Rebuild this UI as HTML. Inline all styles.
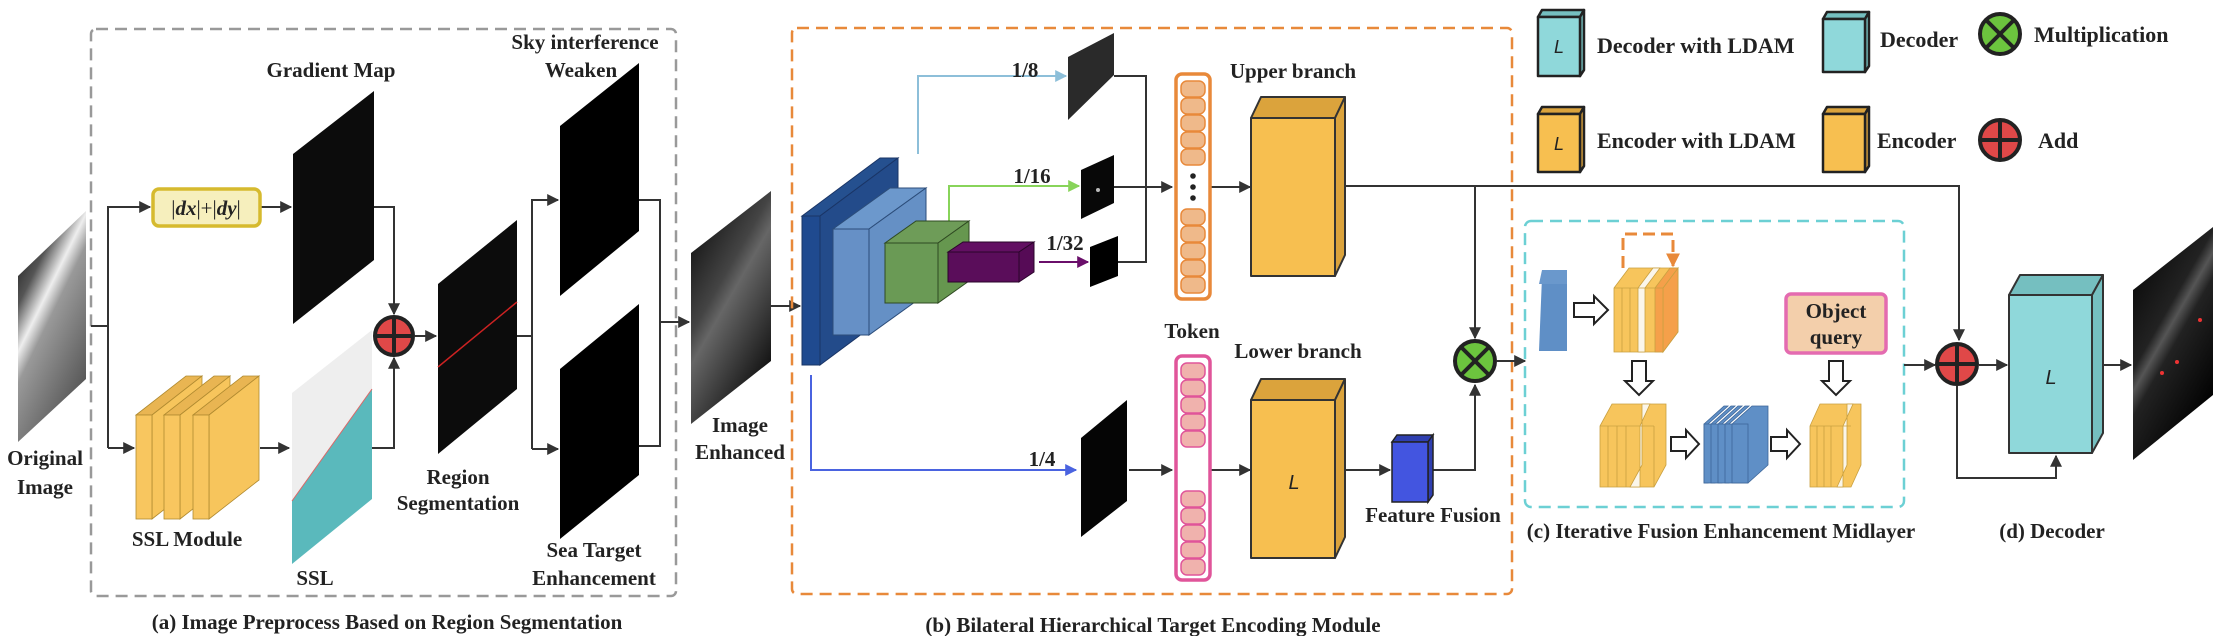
<!DOCTYPE html>
<html><head><meta charset="utf-8"><style>
html,body{margin:0;padding:0;background:#fff;}
svg{display:block;font-family:"Liberation Serif","Times New Roman",serif;}
svg text{font-family:"Liberation Serif","Times New Roman",serif;font-weight:bold;fill:#222;}
svg text.sl{font-family:"Liberation Sans",sans-serif;font-weight:normal;font-style:italic;}
</style></head><body>
<svg width="2214" height="636" viewBox="0 0 2214 636" xmlns="http://www.w3.org/2000/svg" font-family="Liberation Serif, serif">
<defs>
<marker id="a2" viewBox="0 0 10 10" refX="9" refY="5" markerWidth="14" markerHeight="12" orient="auto" markerUnits="userSpaceOnUse"><path d="M0,0 L10,5 L0,10 z" fill="#333"/></marker>
<marker id="ab" viewBox="0 0 10 10" refX="9" refY="5" markerWidth="14" markerHeight="12" orient="auto" markerUnits="userSpaceOnUse"><path d="M0,0 L10,5 L0,10 z" fill="#8dbfd9"/></marker>
<marker id="ag" viewBox="0 0 10 10" refX="9" refY="5" markerWidth="14" markerHeight="12" orient="auto" markerUnits="userSpaceOnUse"><path d="M0,0 L10,5 L0,10 z" fill="#88d45a"/></marker>
<marker id="ap" viewBox="0 0 10 10" refX="9" refY="5" markerWidth="14" markerHeight="12" orient="auto" markerUnits="userSpaceOnUse"><path d="M0,0 L10,5 L0,10 z" fill="#6a0f6a"/></marker>
<marker id="abl" viewBox="0 0 10 10" refX="9" refY="5" markerWidth="14" markerHeight="12" orient="auto" markerUnits="userSpaceOnUse"><path d="M0,0 L10,5 L0,10 z" fill="#4a63e0"/></marker>
<marker id="ao" viewBox="0 0 10 10" refX="9" refY="5" markerWidth="14" markerHeight="14" orient="auto" markerUnits="userSpaceOnUse"><path d="M0,0 L10,5 L0,10 z" fill="#e8893a"/></marker>
<linearGradient id="gOrig" x1="0" y1="0" x2="0.6" y2="1">
<stop offset="0" stop-color="#000"/><stop offset="0.3" stop-color="#555"/><stop offset="0.45" stop-color="#eee"/><stop offset="0.55" stop-color="#999"/><stop offset="1" stop-color="#555"/></linearGradient>
<linearGradient id="gEnh" x1="0" y1="0" x2="0.6" y2="1">
<stop offset="0" stop-color="#000"/><stop offset="0.45" stop-color="#444"/><stop offset="0.55" stop-color="#666"/><stop offset="1" stop-color="#111"/></linearGradient>
<linearGradient id="gOut" x1="0" y1="0" x2="0.6" y2="1">
<stop offset="0" stop-color="#000"/><stop offset="0.45" stop-color="#222"/><stop offset="0.52" stop-color="#555"/><stop offset="0.6" stop-color="#222"/><stop offset="1" stop-color="#000"/></linearGradient>
</defs>

<rect x="91" y="29" width="585" height="567" rx="5" fill="none" stroke="#999" stroke-width="2.5" stroke-dasharray="12,7"/>
<polygon points="18,276 86,211 86,379 18,442" fill="url(#gOrig)"/>
<text x="45" y="465" font-size="21" text-anchor="middle">Original</text>
<text x="45" y="494" font-size="21" text-anchor="middle">Image</text>
<g stroke="#333" stroke-width="2" fill="none">
<polyline points="91,326 108,326"/>
<polyline points="108,448 108,207 150,207" marker-end="url(#a2)"/>
<polyline points="108,448 134,448" marker-end="url(#a2)"/>
<line x1="260" y1="207" x2="291" y2="207" marker-end="url(#a2)"/>
<polyline points="374,207 394,207 394,314" marker-end="url(#a2)"/>
<line x1="260" y1="448" x2="289" y2="448" marker-end="url(#a2)"/>
<polyline points="372,448 394,448 394,358" marker-end="url(#a2)"/>
<line x1="415" y1="336" x2="436" y2="336" marker-end="url(#a2)"/>
<polyline points="517,336 532,336"/>
<polyline points="532,449 532,200 558,200" marker-end="url(#a2)"/>
<polyline points="532,449 558,449" marker-end="url(#a2)"/>
<polyline points="639,200 660,200 660,446 639,446"/>
<line x1="660" y1="322" x2="689" y2="322" marker-end="url(#a2)"/>
</g>
<rect x="153" y="189" width="107" height="37" rx="6" fill="#f6efbd" stroke="#d6ba2e" stroke-width="3.5"/>
<text x="206" y="215" font-size="21" text-anchor="middle" style="font-weight:normal">|<tspan font-style="italic" style="font-weight:bold">dx</tspan>|+|<tspan font-style="italic" style="font-weight:bold">dy</tspan>|</text>
<polygon points="293,154 374,91 374,260 293,324" fill="#0c0c0c"/>
<text x="331" y="77" font-size="21" text-anchor="middle">Gradient Map</text>
<g stroke="#b08a30" stroke-width="0.8">
<polygon points="136,415 186,376 202,376 152,415" fill="#e9b552"/><polygon points="152,415 202,376 202,480 152,519" fill="#f7c55c"/><rect x="136" y="415" width="16" height="104" fill="#f8c65f"/>
<polygon points="164,415 214,376 230,376 180,415" fill="#e9b552"/><polygon points="180,415 230,376 230,480 180,519" fill="#f7c55c"/><rect x="164" y="415" width="16" height="104" fill="#f8c65f"/>
<polygon points="193,415 243,376 259,376 209,415" fill="#e9b552"/><polygon points="209,415 259,376 259,480 209,519" fill="#f7c55c"/><rect x="193" y="415" width="16" height="104" fill="#f8c65f"/>
</g>
<text x="187" y="546" font-size="21" text-anchor="middle">SSL Module</text>
<polygon points="292,393 372,330 372,389 292,501" fill="#eeeeee"/>
<polygon points="292,501 372,389 372,499 292,564" fill="#5ab9bc"/>
<line x1="292" y1="501" x2="372" y2="389" stroke="#d66" stroke-width="1"/>
<text x="315" y="585" font-size="21" text-anchor="middle">SSL</text>
<circle cx="394" cy="336" r="19" fill="#e04848" stroke="#222" stroke-width="4"/>
<line x1="375" y1="336" x2="413" y2="336" stroke="#222" stroke-width="4"/><line x1="394" y1="317" x2="394" y2="355" stroke="#222" stroke-width="4"/>
<polygon points="438,284 517,220 517,389 438,454" fill="#0c0c0c"/>
<line x1="438" y1="367" x2="517" y2="302" stroke="#c22" stroke-width="1.5"/>
<text x="458" y="484" font-size="21" text-anchor="middle">Region</text>
<text x="458" y="510" font-size="21" text-anchor="middle">Segmentation</text>
<polygon points="560,126 639,63 639,231 560,296" fill="#000"/>
<text x="585" y="49" font-size="21" text-anchor="middle">Sky interference</text>
<text x="581" y="77" font-size="21" text-anchor="middle">Weaken</text>
<polygon points="560,369 639,304 639,475 560,539" fill="#000"/>
<text x="594" y="557" font-size="21" text-anchor="middle">Sea Target</text>
<text x="594" y="585" font-size="21" text-anchor="middle">Enhancement</text>
<text x="387" y="629" font-size="21" text-anchor="middle">(a) Image Preprocess Based on Region Segmentation</text>
<polygon points="691,253 771,191 771,361 691,424" fill="url(#gEnh)"/>
<text x="740" y="432" font-size="21" text-anchor="middle">Image</text>
<text x="740" y="459" font-size="21" text-anchor="middle">Enhanced</text>
<line x1="771" y1="306" x2="800" y2="306" stroke="#333" stroke-width="2" marker-end="url(#a2)"/>

<rect x="792" y="28" width="720" height="566" rx="5" fill="none" stroke="#e8893a" stroke-width="2.5" stroke-dasharray="12,7"/>
<polyline points="918,154 918,76 1066,76" fill="none" stroke="#8dbfd9" stroke-width="2" marker-end="url(#ab)"/>
<polyline points="949,221 949,186 1079,186" fill="none" stroke="#88d45a" stroke-width="2" marker-end="url(#ag)"/>
<line x1="1039" y1="262" x2="1088" y2="262" stroke="#6a0f6a" stroke-width="2" marker-end="url(#ap)"/>
<polyline points="811,375 811,470 1076,470" fill="none" stroke="#4a63e0" stroke-width="2" marker-end="url(#abl)"/>
<g stroke="#1a3566" stroke-width="1">
<polygon points="802,216 880,158 898,158 820,216" fill="#25508f"/>
<polygon points="820,216 898,158 898,307 820,365" fill="#234b8a"/>
<rect x="802" y="216" width="18" height="149" fill="#1f4a8f"/>
</g>
<g stroke="#2c4d7a" stroke-width="1">
<polygon points="833,229 890,188 926,188 869,229" fill="#6c98cc"/>
<polygon points="869,229 926,188 926,294 869,335" fill="#6590c5"/>
<rect x="833" y="229" width="36" height="106" fill="#6690c6"/>
</g>
<g stroke="#2f4a22" stroke-width="1">
<polygon points="885,243 916,221 969,221 938,243" fill="#6e9c58"/>
<polygon points="938,243 969,221 969,281 938,303" fill="#66974f"/>
<rect x="885" y="243" width="53" height="60" fill="#6a9a55"/>
</g>
<g stroke="#2a052a" stroke-width="1">
<polygon points="948,252 963,242 1034,242 1019,252" fill="#620f62"/>
<polygon points="1019,252 1034,242 1034,272 1019,282" fill="#560b56"/>
<rect x="948" y="252" width="71" height="30" fill="#5a0d5a"/>
</g>
<text x="1025" y="77" font-size="21" text-anchor="middle">1/8</text>
<text x="1032" y="183" font-size="21" text-anchor="middle">1/16</text>
<text x="1065" y="250" font-size="21" text-anchor="middle">1/32</text>
<text x="1042" y="466" font-size="21" text-anchor="middle">1/4</text>
<polygon points="1068,57 1114,33 1114,75 1068,120" fill="#2a2a2a"/>
<polygon points="1081,170 1114,155 1114,203 1081,219" fill="#080808"/>
<circle cx="1098" cy="190" r="2" fill="#bbb"/>
<polygon points="1090,247 1118,236 1118,276 1090,287" fill="#000"/>
<polygon points="1081,438 1127,400 1127,501 1081,537" fill="#050505"/>
<g stroke="#333" stroke-width="2" fill="none">
<polyline points="1114,76 1146,76 1146,262 1118,262"/>
<line x1="1114" y1="187" x2="1172" y2="187" marker-end="url(#a2)"/>
<line x1="1210" y1="187" x2="1250" y2="187" marker-end="url(#a2)"/>
<line x1="1129" y1="470" x2="1172" y2="470" marker-end="url(#a2)"/>
<line x1="1210" y1="470" x2="1250" y2="470" marker-end="url(#a2)"/>
<line x1="1345" y1="470" x2="1390" y2="470" marker-end="url(#a2)"/>
<polyline points="1345,186 1959,186 1959,340" marker-end="url(#a2)"/>
<line x1="1475" y1="186" x2="1475" y2="338" marker-end="url(#a2)"/>
<polyline points="1428,470 1475,470 1475,385" marker-end="url(#a2)"/>
<line x1="1497" y1="361" x2="1525" y2="361" marker-end="url(#a2)"/>
</g>
<rect x="1176" y="74" width="34" height="225" rx="6" fill="#fff" stroke="#e8893a" stroke-width="3.5"/>
<g fill="#efb98a" stroke="#e8893a" stroke-width="1.5">
<rect x="1181" y="81" width="24" height="16" rx="6"/><rect x="1181" y="98" width="24" height="16" rx="6"/><rect x="1181" y="115" width="24" height="16" rx="6"/><rect x="1181" y="132" width="24" height="16" rx="6"/><rect x="1181" y="149" width="24" height="16" rx="6"/>
<rect x="1181" y="209" width="24" height="16" rx="6"/><rect x="1181" y="226" width="24" height="16" rx="6"/><rect x="1181" y="243" width="24" height="16" rx="6"/><rect x="1181" y="260" width="24" height="16" rx="6"/><rect x="1181" y="277" width="24" height="16" rx="6"/>
</g>
<g fill="#222"><circle cx="1193" cy="176" r="2.8"/><circle cx="1193" cy="187" r="2.8"/><circle cx="1193" cy="198" r="2.8"/>
<circle cx="1193" cy="459" r="2.8"/><circle cx="1193" cy="470" r="2.8"/><circle cx="1193" cy="481" r="2.8"/></g>
<rect x="1176" y="356" width="34" height="224" rx="6" fill="#fff" stroke="#e0559a" stroke-width="3.5"/>
<g fill="#f0b2ad" stroke="#e0559a" stroke-width="1.5">
<rect x="1181" y="363" width="24" height="16" rx="6"/><rect x="1181" y="380" width="24" height="16" rx="6"/><rect x="1181" y="397" width="24" height="16" rx="6"/><rect x="1181" y="414" width="24" height="16" rx="6"/><rect x="1181" y="431" width="24" height="16" rx="6"/>
<rect x="1181" y="491" width="24" height="16" rx="6"/><rect x="1181" y="508" width="24" height="16" rx="6"/><rect x="1181" y="525" width="24" height="16" rx="6"/><rect x="1181" y="542" width="24" height="16" rx="6"/><rect x="1181" y="559" width="24" height="16" rx="6"/>
</g>
<text x="1192" y="338" font-size="21" text-anchor="middle">Token</text>
<text x="1293" y="78" font-size="21" text-anchor="middle">Upper branch</text>
<text x="1298" y="358" font-size="21" text-anchor="middle">Lower branch</text>
<g stroke="#333" stroke-width="2" stroke-linejoin="round">
<polygon points="1251,118 1261,97 1345,97 1335,118" fill="#dba33c"/>
<polygon points="1335,118 1345,97 1345,255 1335,276" fill="#dba33c"/>
<rect x="1251" y="118" width="84" height="158" fill="#f7bf50"/>
<polygon points="1251,400 1261,379 1345,379 1335,400" fill="#dba33c"/>
<polygon points="1335,400 1345,379 1345,537 1335,558" fill="#dba33c"/>
<rect x="1251" y="400" width="84" height="158" fill="#f7bf50"/>
</g>
<text class="sl" x="1294" y="489" font-size="20" text-anchor="middle">L</text>
<g stroke="#222" stroke-width="1.5">
<polygon points="1392,442 1397,435 1433,435 1428,442" fill="#2f3fb0"/>
<polygon points="1428,442 1433,435 1433,495 1428,502" fill="#2f3fb0"/>
<rect x="1392" y="442" width="36" height="60" fill="#4355e0"/>
</g>
<text x="1433" y="522" font-size="21" text-anchor="middle">Feature Fusion</text>
<circle cx="1475" cy="361" r="20" fill="#6cc43e" stroke="#222" stroke-width="4"/>
<line x1="1461" y1="347" x2="1489" y2="375" stroke="#222" stroke-width="4"/><line x1="1489" y1="347" x2="1461" y2="375" stroke="#222" stroke-width="4"/>
<text x="1153" y="632" font-size="21" text-anchor="middle">(b) Bilateral Hierarchical Target Encoding Module</text>

<g stroke="#222" stroke-width="2.5" stroke-linejoin="round">
<polygon points="1538,17 1542,10 1584,10 1580,17" fill="#75bfc0"/><polygon points="1580,17 1584,10 1584,70 1580,76" fill="#75bfc0"/><rect x="1538" y="17" width="42" height="59" fill="#8fd8da"/>
<polygon points="1823,19 1827,12 1869,12 1865,19" fill="#75bfc0"/><polygon points="1865,19 1869,12 1869,66 1865,72" fill="#75bfc0"/><rect x="1823" y="19" width="42" height="53" fill="#8fd8da"/>
<polygon points="1538,114 1542,107 1584,107 1580,114" fill="#dba33c"/><polygon points="1580,114 1584,107 1584,166 1580,172" fill="#dba33c"/><rect x="1538" y="114" width="42" height="58" fill="#f7bf50"/>
<polygon points="1823,114 1827,107 1869,107 1865,114" fill="#dba33c"/><polygon points="1865,114 1869,107 1869,166 1865,172" fill="#dba33c"/><rect x="1823" y="114" width="42" height="58" fill="#f7bf50"/>
</g>
<text class="sl" x="1559" y="53" font-size="18" text-anchor="middle">L</text>
<text class="sl" x="1559" y="150" font-size="18" text-anchor="middle">L</text>
<text x="1597" y="53" font-size="22">Decoder with LDAM</text>
<text x="1597" y="148" font-size="22">Encoder with LDAM</text>
<text x="1880" y="47" font-size="22">Decoder</text>
<text x="1877" y="148" font-size="22">Encoder</text>
<circle cx="2000" cy="34" r="20" fill="#6cc43e" stroke="#222" stroke-width="4"/>
<line x1="1986" y1="20" x2="2014" y2="48" stroke="#222" stroke-width="4"/><line x1="2014" y1="20" x2="1986" y2="48" stroke="#222" stroke-width="4"/>
<text x="2034" y="42" font-size="22">Multiplication</text>
<circle cx="2000" cy="140" r="20" fill="#e04848" stroke="#222" stroke-width="4"/>
<line x1="1980" y1="140" x2="2020" y2="140" stroke="#222" stroke-width="4"/><line x1="2000" y1="120" x2="2000" y2="160" stroke="#222" stroke-width="4"/>
<text x="2038" y="148" font-size="22">Add</text>

<rect x="1525" y="221" width="379" height="286" rx="6" fill="none" stroke="#6cd0d4" stroke-width="2.5" stroke-dasharray="12,7"/>
<polygon points="1542,277 1567,270 1567,351 1539,351" fill="#5f8fc6"/>
<polygon points="1539,284 1542,270 1567,270 1567,284" fill="#6a98cc"/>
<g fill="#fff" stroke="#222" stroke-width="2">
<polygon points="1574,303 1594,303 1594,296 1608,310 1594,324 1594,317 1574,317"/>
<polygon points="1632,361 1646,361 1646,381 1653,381 1639,395 1625,381 1632,381"/>
<polygon points="1829,361 1843,361 1843,381 1850,381 1836,395 1822,381 1829,381"/>
<polygon points="1671,437 1686,437 1686,430 1699,444 1686,458 1686,451 1671,451"/>
<polygon points="1771,437 1787,437 1787,430 1800,444 1787,458 1787,451 1771,451"/>
</g>
<g stroke="#c9a040" stroke-width="0.8">
<polygon points="1614,288 1629,268 1678,268 1678,332 1663,352 1614,352" fill="#f7c55c"/>
<polygon points="1638,288 1653,268 1660,268 1645,288 1645,352 1638,352" fill="#fbf6ea"/>
<polygon points="1663,288 1678,268 1678,332 1663,352" fill="#f5a04a"/>
<polygon points="1655,288 1670,268 1678,268 1663,288 1663,352 1655,352" fill="#f5a04a"/>
<line x1="1622" y1="288" x2="1622" y2="352"/><line x1="1630" y1="288" x2="1630" y2="352"/><line x1="1614" y1="288" x2="1663" y2="288"/>
</g>
<polyline points="1623,268 1623,234 1673,234 1673,266" fill="none" stroke="#e8893a" stroke-width="3" stroke-dasharray="12,6" marker-end="url(#ao)"/>
<g stroke="#c9a040" stroke-width="0.8">
<polygon points="1600,426 1612,404 1666,404 1666,465 1654,487 1600,487" fill="#f7c55c"/>
<polygon points="1630,487 1642,465 1642,404 1650,404 1640,426 1640,487" fill="#fbf6ea"/>
<line x1="1608" y1="426" x2="1608" y2="487"/><line x1="1617" y1="426" x2="1617" y2="487"/><line x1="1626" y1="426" x2="1626" y2="487"/><line x1="1654" y1="426" x2="1654" y2="487"/><line x1="1600" y1="426" x2="1654" y2="426"/>
</g>
<g stroke="#3d6699" stroke-width="0.8" fill="#5f8fc6">
<polygon points="1704,424 1724,406 1728,406 1708,424 1708,483 1704,483"/>
<polygon points="1711,424 1731,406 1735,406 1715,424 1715,483 1711,483"/>
<polygon points="1718,424 1738,406 1742,406 1722,424 1722,483 1718,483"/>
<polygon points="1725,424 1745,406 1749,406 1729,424 1729,483 1725,483"/>
<polygon points="1732,424 1752,406 1768,406 1768,465 1748,483 1732,483"/>
<rect x="1704" y="424" width="44" height="59"/>
<line x1="1711" y1="424" x2="1711" y2="483"/><line x1="1718" y1="424" x2="1718" y2="483"/><line x1="1725" y1="424" x2="1725" y2="483"/><line x1="1732" y1="424" x2="1732" y2="483"/>
</g>
<g stroke="#c9a040" stroke-width="0.8">
<polygon points="1810,426 1820,404 1861,404 1861,465 1851,487 1810,487" fill="#f7c55c"/>
<polygon points="1837,487 1847,465 1847,404 1853,404 1843,426 1843,487" fill="#fbf6ea"/>
<line x1="1817" y1="426" x2="1817" y2="487"/><line x1="1824" y1="426" x2="1824" y2="487"/><line x1="1831" y1="426" x2="1831" y2="487"/><line x1="1810" y1="426" x2="1851" y2="426"/>
</g>
<rect x="1786" y="294" width="100" height="59" rx="5" fill="#f3cfab" stroke="#e46bb0" stroke-width="3.5"/>
<text x="1836" y="318" font-size="21" text-anchor="middle">Object</text>
<text x="1836" y="344" font-size="21" text-anchor="middle">query</text>
<text x="1721" y="538" font-size="21" text-anchor="middle">(c) Iterative Fusion Enhancement Midlayer</text>
<text x="2052" y="538" font-size="21" text-anchor="middle">(d) Decoder</text>

<g stroke="#333" stroke-width="2" fill="none">
<line x1="1904" y1="365" x2="1935" y2="365" marker-end="url(#a2)"/>
<line x1="1979" y1="365" x2="2007" y2="365" marker-end="url(#a2)"/>
<polyline points="1957,386 1957,478 2056,478 2056,456" marker-end="url(#a2)"/>
<line x1="2103" y1="365" x2="2131" y2="365" marker-end="url(#a2)"/>
</g>
<circle cx="1957" cy="364" r="20" fill="#e04848" stroke="#222" stroke-width="4"/>
<line x1="1937" y1="364" x2="1977" y2="364" stroke="#222" stroke-width="4"/><line x1="1957" y1="344" x2="1957" y2="384" stroke="#222" stroke-width="4"/>
<g stroke="#333" stroke-width="2" stroke-linejoin="round">
<polygon points="2009,295 2020,275 2103,275 2092,295" fill="#75bfc0"/>
<polygon points="2092,295 2103,275 2103,433 2092,453" fill="#75bfc0"/>
<rect x="2009" y="295" width="83" height="158" fill="#8fd8da"/>
</g>
<text class="sl" x="2051" y="384" font-size="20" text-anchor="middle">L</text>
<polygon points="2133,290 2213,227 2213,395 2133,460" fill="url(#gOut)"/>
<circle cx="2177" cy="362" r="2" fill="#e33"/><circle cx="2162" cy="373" r="2" fill="#e33"/><circle cx="2200" cy="320" r="2" fill="#e33"/>
</svg>
</body></html>
